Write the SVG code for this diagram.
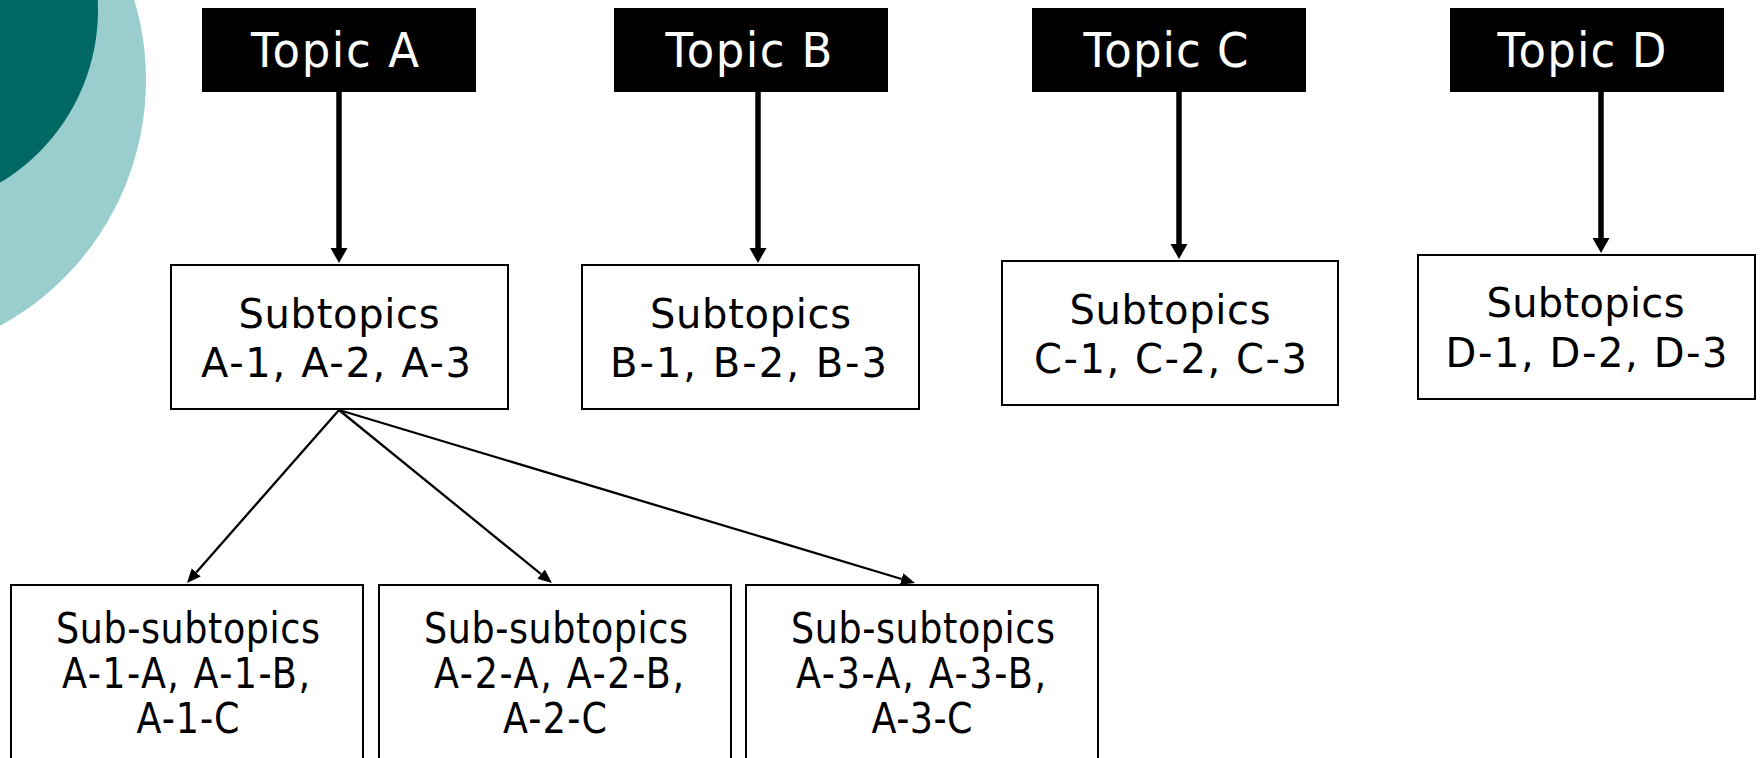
<svg xmlns="http://www.w3.org/2000/svg" width="1760" height="758" viewBox="0 0 1760 758">
  <style>
    .topic { fill: #000000; }
    .topic-text { font-family: "DejaVu Sans", Verdana, sans-serif; font-size: 45px; fill: #ffffff; text-anchor: middle; }
    .box { fill: #ffffff; stroke: #000000; stroke-width: 2; }
    .sub-text { font-family: "DejaVu Sans", Verdana, sans-serif; font-size: 40px; fill: #000000; text-anchor: middle; }
    .subsub-text { font-family: "DejaVu Sans", Verdana, sans-serif; font-size: 36.5px; fill: #000000; text-anchor: middle; }
    .thick { stroke: #000000; stroke-width: 5.5; fill: none; }
    .thin { stroke: #000000; stroke-width: 2.3; fill: none; }
  </style>
  <defs>
    <marker id="arrowBig" markerUnits="userSpaceOnUse" markerWidth="16" markerHeight="18" refX="0" refY="8.5" orient="auto">
      <path d="M0,0 L15,8.5 L0,17 z" fill="#000000"/>
    </marker>
    <marker id="arrowSmall" markerUnits="userSpaceOnUse" markerWidth="15" markerHeight="13" refX="0" refY="6" orient="auto">
      <path d="M0,0 L14,6 L0,12 z" fill="#000000"/>
    </marker>
  </defs>
  <rect width="1760" height="758" fill="#ffffff"/>
  <g id="decoration">
    <circle cx="-134" cy="80" r="280" fill="#9ACECE"/>
    <circle cx="-103" cy="10" r="201" fill="#006863"/>
  </g>
  <g id="connectors">
    <line class="thick" x1="339" y1="92" x2="339" y2="248" marker-end="url(#arrowBig)"/>
    <line class="thick" x1="758" y1="92" x2="758" y2="248" marker-end="url(#arrowBig)"/>
    <line class="thick" x1="1179" y1="92" x2="1179" y2="244" marker-end="url(#arrowBig)"/>
    <line class="thick" x1="1601" y1="92" x2="1601" y2="238" marker-end="url(#arrowBig)"/>
    <line class="thin" x1="339" y1="410" x2="196.2" y2="572.5" marker-end="url(#arrowSmall)"/>
    <line class="thin" x1="339" y1="410" x2="541.1" y2="574.2" marker-end="url(#arrowSmall)"/>
    <line class="thin" x1="339" y1="410" x2="901.6" y2="579" marker-end="url(#arrowSmall)"/>
  </g>
  <g id="topicA">
    <rect class="topic" x="202" y="8" width="274" height="84"/>
    <text class="topic-text" transform="translate(335,67) scale(1,1.08)" textLength="168" lengthAdjust="spacing">Topic A</text>
  </g>
  <g id="topicB">
    <rect class="topic" x="614" y="8" width="274" height="84"/>
    <text class="topic-text" transform="translate(749,67) scale(1,1.08)" textLength="167" lengthAdjust="spacing">Topic B</text>
  </g>
  <g id="topicC">
    <rect class="topic" x="1032" y="8" width="274" height="84"/>
    <text class="topic-text" transform="translate(1166,67) scale(1,1.08)" textLength="165" lengthAdjust="spacing">Topic C</text>
  </g>
  <g id="topicD">
    <rect class="topic" x="1450" y="8" width="274" height="84"/>
    <text class="topic-text" transform="translate(1582,67) scale(1,1.08)" textLength="169" lengthAdjust="spacing">Topic D</text>
  </g>
  <g id="subtopicsA">
    <rect class="box" x="171" y="265" width="337" height="144"/>
    <text class="sub-text" x="339" y="328" textLength="201" lengthAdjust="spacing">Subtopics</text>
    <text class="sub-text" x="336" y="377" textLength="270" lengthAdjust="spacing">A-1, A-2, A-3</text>
  </g>
  <g id="subtopicsB">
    <rect class="box" x="582" y="265" width="337" height="144"/>
    <text class="sub-text" x="750.5" y="328" textLength="201" lengthAdjust="spacing">Subtopics</text>
    <text class="sub-text" x="748.5" y="377" textLength="277" lengthAdjust="spacing">B-1, B-2, B-3</text>
  </g>
  <g id="subtopicsC">
    <rect class="box" x="1002" y="261" width="336" height="144"/>
    <text class="sub-text" x="1170" y="324" textLength="201" lengthAdjust="spacing">Subtopics</text>
    <text class="sub-text" x="1170.5" y="373" textLength="273" lengthAdjust="spacing">C-1, C-2, C-3</text>
  </g>
  <g id="subtopicsD">
    <rect class="box" x="1418" y="255" width="337" height="144"/>
    <text class="sub-text" x="1585.5" y="317" textLength="198" lengthAdjust="spacing">Subtopics</text>
    <text class="sub-text" x="1586.5" y="367" textLength="282" lengthAdjust="spacing">D-1, D-2, D-3</text>
  </g>
  <g id="subsubA1">
    <rect class="box" x="11" y="585" width="352" height="200"/>
    <text class="subsub-text" transform="translate(188,643) scale(1,1.18)" textLength="264" lengthAdjust="spacing">Sub-subtopics</text>
    <text class="subsub-text" transform="translate(186,688) scale(1,1.18)" textLength="248" lengthAdjust="spacing">A-1-A, A-1-B,</text>
    <text class="subsub-text" transform="translate(188,733) scale(1,1.18)" textLength="103" lengthAdjust="spacing">A-1-C</text>
  </g>
  <g id="subsubA2">
    <rect class="box" x="379" y="585" width="352" height="200"/>
    <text class="subsub-text" transform="translate(556,643) scale(1,1.18)" textLength="264" lengthAdjust="spacing">Sub-subtopics</text>
    <text class="subsub-text" transform="translate(559,688) scale(1,1.18)" textLength="250" lengthAdjust="spacing">A-2-A, A-2-B,</text>
    <text class="subsub-text" transform="translate(555,733) scale(1,1.18)" textLength="104" lengthAdjust="spacing">A-2-C</text>
  </g>
  <g id="subsubA3">
    <rect class="box" x="746" y="585" width="352" height="200"/>
    <text class="subsub-text" transform="translate(923,643) scale(1,1.18)" textLength="264" lengthAdjust="spacing">Sub-subtopics</text>
    <text class="subsub-text" transform="translate(921,688) scale(1,1.18)" textLength="250" lengthAdjust="spacing">A-3-A, A-3-B,</text>
    <text class="subsub-text" transform="translate(922,733) scale(1,1.18)" textLength="101" lengthAdjust="spacing">A-3-C</text>
  </g>
</svg>
